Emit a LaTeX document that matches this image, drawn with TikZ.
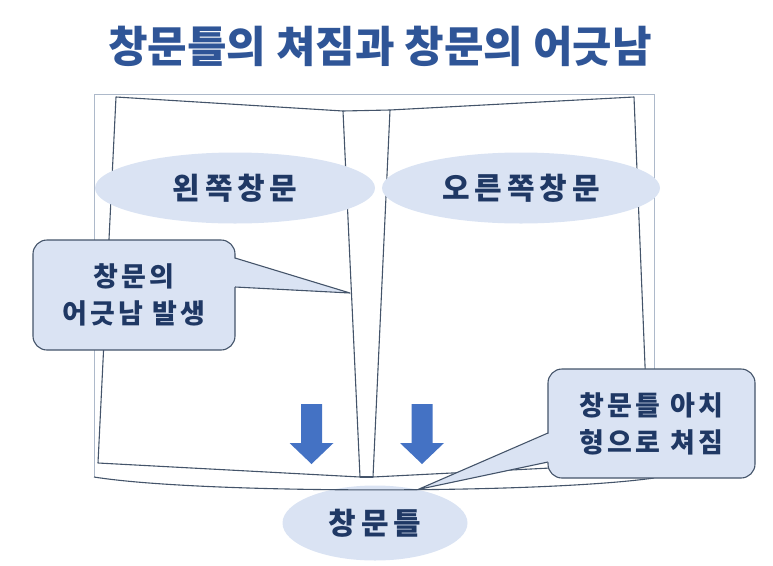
\documentclass[tikz,border=0pt]{standalone}
\usepackage{fontspec}
\setmainfont{Noto Sans CJK KR}
\IfFontExistsTF{Noto Sans CJK KR Black}{%
  \newfontfamily\handfont{Noto Sans CJK KR Black}[LetterSpace=16]
  \newfontfamily\notefont{Noto Sans CJK KR Black}[LetterSpace=12]
}{%
  \newfontfamily\handfont{Noto Sans CJK KR}[LetterSpace=18, UprightFont=*Bold]
  \newfontfamily\notefont{Noto Sans CJK KR}[LetterSpace=14, UprightFont=*Bold]
}
\usepackage{tikz}
\usetikzlibrary{shapes.geometric}
\definecolor{TitleBlue}{RGB}{47,85,151}
\definecolor{InkNavy}{RGB}{31,56,100}
\definecolor{PaleBlue}{RGB}{218,227,243}
\definecolor{DoorNavy}{RGB}{68,84,106}
\definecolor{FrameGray}{RGB}{173,185,202}
\definecolor{ArrowBlue}{RGB}{68,114,196}

\begin{document}
\begin{tikzpicture}[
    x=1pt, y=-1pt,
    frame/.style={draw=FrameGray, line width=0.8pt},
    door/.style={draw=DoorNavy, line width=1.1pt, line join=round},
    oval/.style={ellipse, fill=PaleBlue, text=InkNavy, inner sep=0pt,
                 font=\handfont\fontsize{30}{34}\selectfont},
    bubble/.style={rectangle, rounded corners=14pt, fill=PaleBlue, draw=DoorNavy,
                   line width=1.1pt, text=InkNavy, align=center, inner sep=0pt,
                   font=\notefont\fontsize{27}{37}\selectfont},
    pointer/.style={draw=DoorNavy, line width=1.1pt, line join=round},
    droparrow/.style={fill=ArrowBlue}
]
\useasboundingbox (0,0) rectangle (773,565);

% Title
\node[font=\bfseries\fontsize{43}{46}\selectfont, text=TitleBlue] (title) at (380,46) {창문틀의 쳐짐과 창문의 어긋남};

% Outer frame
\coordinate (ftl) at (94,94);
\coordinate (ftr) at (654,94);
\coordinate (fbl) at (94,477);
\coordinate (fbr) at (654,478);
\draw[frame] (fbl) -- (ftl) -- (ftr) -- (fbr);

% Doors
\coordinate (ltl) at (116,97);
\coordinate (ltr) at (343,111);
\coordinate (lbr) at (360,477);
\coordinate (lbl) at (98,463);
\coordinate (rtl) at (390,110);
\coordinate (rtr) at (634,97);
\coordinate (rbr) at (649,463);
\coordinate (rbl) at (373,477);
\draw[door] (ltl) -- (ltr) -- (lbr) -- (lbl) -- cycle;
\draw[door] (rtl) -- (rtr) -- (rbr) -- (rbl) -- cycle;
\draw[door] (ltr) -- (rtl);
\draw[door] (lbr) -- (rbl);

% Labels
\node[oval, minimum width=280pt, minimum height=71pt] (leftsash) at (235,188) {왼쪽창문};
\node[oval, minimum width=278pt, minimum height=71pt] (rightsash) at (521,188) {오른쪽창문};
\node[oval, minimum width=185pt, minimum height=75pt] (sill) at (375,523) {창문틀};
\draw[door] (fbl) .. controls (200,494) and (540,494) .. (fbr);

% Sagging arrows
\foreach \ax in {311.5, 422} {
  \fill[droparrow] (\ax-10.5,404) -- (\ax+10.5,404) -- (\ax+10.5,443) -- (\ax+22,443)
    -- (\ax,464) -- (\ax-22,443) -- (\ax-10.5,443) -- cycle;
}

% Callout: misalignment
\node[bubble, minimum width=202pt, minimum height=110pt] (misalign) at (134,295) {창문의\\어긋남 발생};
\coordinate (ltip) at (350,293);
\coordinate (lbase1) at (235,258);
\coordinate (lbase2) at (235,287);
\fill[PaleBlue] ([xshift=-2pt]lbase1) -- (ltip) -- ([xshift=-2pt]lbase2) -- cycle;
\draw[pointer] (lbase1) -- (ltip) -- (lbase2);

% Callout: sagging frame
\node[bubble, minimum width=207pt, minimum height=109pt] (sag) at (651.5,423.5) {창문틀 아치\\형으로 쳐짐};
\coordinate (rtip) at (418,489.5);
\coordinate (rbase1) at (548,433);
\coordinate (rbase2) at (548,462);
\fill[PaleBlue] ([xshift=2pt]rbase1) -- (rtip) -- ([xshift=2pt]rbase2) -- cycle;
\draw[pointer] (rbase1) -- (rtip) -- (rbase2);

\end{tikzpicture}
\end{document}
